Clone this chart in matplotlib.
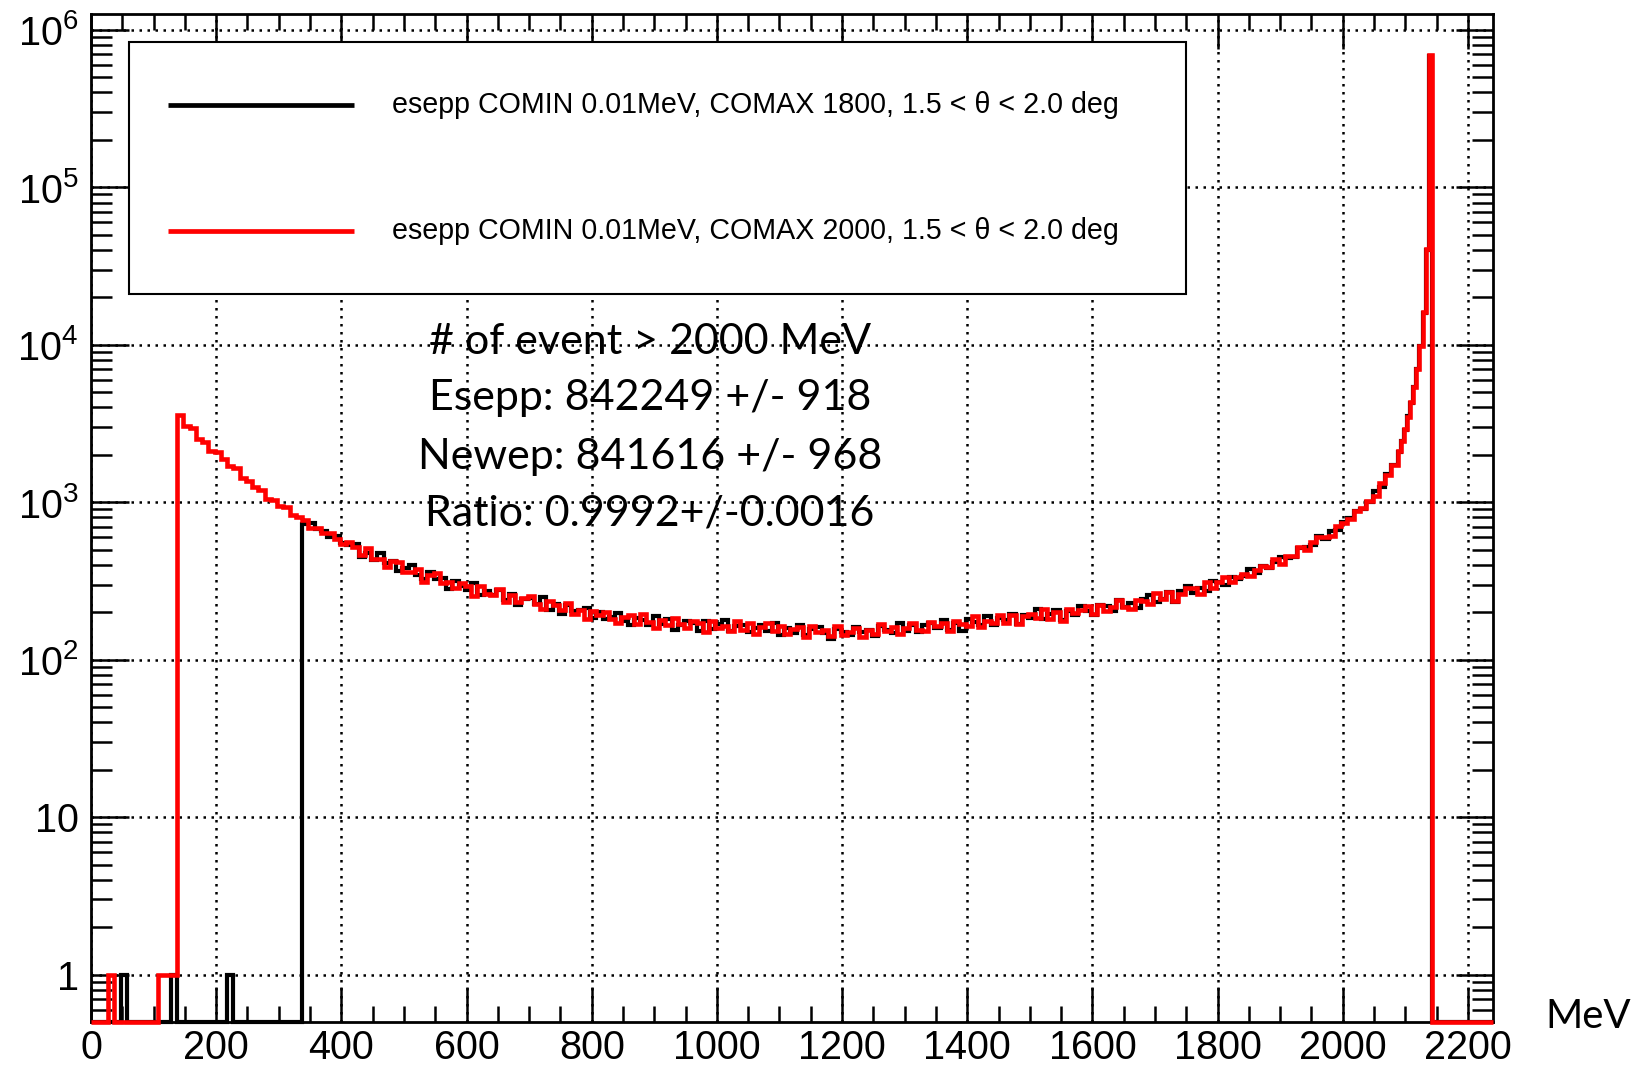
'''
esepp COMAX comparison: energy spectrum, 1.5 < theta < 2.0 deg.
'''

import matplotlib.pyplot as plt
import numpy as np
from matplotlib.patches import Rectangle
from matplotlib.ticker import (FixedFormatter, FixedLocator, LogLocator,
                               MultipleLocator, NullFormatter)

plt.rcParams['font.family'] = ['Liberation Sans', 'DejaVu Sans']

# bin edges (MeV): one edge bin, 10 MeV bins, 5 MeV bins near the peak, tail bin
edges = np.concatenate(([0.0], np.arange(7.5, 2088, 10),
                        np.arange(2092.5, 2143, 5), [2240.0]))

# COMAX 2000 (red)
red_low = [0, 0, 0, 1, 0, 0, 0, 0, 0, 0, 0, 1, 1, 1]
red_bulk = [
    3570, 3060, 2940, 2530, 2420, 2110, 2070, 1880, 1690, 1640,
    1425, 1366, 1245, 1192, 1045, 1026, 942, 931, 828, 800,
    773, 689, 688, 635, 635, 583, 544, 562, 522, 461,
    512, 438, 439, 386, 421, 419, 361, 361, 378, 311,
    346, 353, 305, 310, 284, 309, 293, 255, 293, 260,
    259, 283, 234, 258, 232, 245, 255, 227, 210, 237,
    222, 206, 229, 194, 208, 180, 205, 192, 202, 180,
    171, 186, 191, 169, 195, 173, 160, 179, 166, 184,
    169, 158, 175, 171, 149, 175, 160, 164, 153, 175,
    154, 170, 146, 161, 171, 152, 163, 145, 157, 162,
    139, 163, 149, 155, 141, 164, 143, 150, 159, 139,
    155, 145, 168, 152, 162, 146, 160, 172, 155, 152,
    174, 163, 171, 152, 176, 169, 163, 188, 162, 177,
    172, 192, 171, 193, 169, 188, 196, 184, 209, 180,
    201, 176, 209, 197, 206, 219, 196, 222, 205, 217,
    238, 216, 210, 239, 236, 227, 266, 244, 269, 236,
    262, 285, 284, 262, 312, 287, 312, 333, 311, 335,
    352, 341, 369, 396, 389, 434, 406, 453, 455, 516,
    498, 555, 599, 603, 609, 704, 738, 777, 877, 916,
    1018, 1094, 1321, 1480, 1715]
red_peak = [2110, 2430, 2920, 3480, 4330, 5380, 7030, 9750, 16100, 40500, 688000]

# COMAX 1800 (black)
black_low = [0, 0, 0, 0, 0, 1, 0, 0, 0, 0, 0, 0, 0, 1, 0, 0, 0,
             0, 0, 0, 0, 0, 1, 0, 0, 0, 0, 0, 0, 0, 0, 0, 0, 0]
black_bulk = [
    728, 735, 677, 653, 600, 608, 551, 535, 543, 451,
    479, 429, 474, 412, 421, 365, 384, 397, 346, 325,
    360, 324, 328, 282, 317, 294, 276, 308, 258, 273,
    257, 278, 239, 263, 224, 242, 245, 225, 249, 208,
    227, 194, 223, 204, 206, 212, 183, 202, 181, 186,
    199, 177, 167, 185, 179, 166, 190, 169, 181, 155,
    167, 176, 170, 153, 177, 157, 168, 178, 151, 163,
    166, 149, 159, 167, 153, 171, 143, 159, 147, 166,
    144, 157, 162, 147, 135, 156, 150, 144, 162, 149,
    155, 141, 163, 155, 148, 171, 153, 165, 149, 167,
    171, 160, 179, 155, 171, 152, 180, 173, 165, 190,
    165, 183, 178, 195, 169, 193, 184, 209, 182, 194,
    207, 178, 203, 191, 218, 203, 193, 222, 218, 204,
    240, 216, 228, 212, 243, 256, 232, 244, 269, 233,
    273, 293, 267, 285, 274, 314, 310, 297, 337, 327,
    342, 377, 354, 391, 384, 417, 450, 443, 446, 510,
    520, 532, 606, 588, 660, 665, 750, 790, 874, 909,
    1006, 1175, 1254, 1504, 1715]
black_peak = [2090, 2460, 2880, 3520, 4280, 5420, 6980, 9850, 15900, 40200, 686000]

labels = ['esepp COMIN 0.01MeV, COMAX 1800, 1.5 < \u03b8 < 2.0 deg',
          'esepp COMIN 0.01MeV, COMAX 2000, 1.5 < \u03b8 < 2.0 deg']
notes = ['# of event > 2000 MeV',
         'Esepp: 842249 +/- 918',
         'Newep: 841616 +/- 968',
         'Ratio: 0.9992+/-0.0016']
y_ticks = [1, 10, 1e2, 1e3, 1e4, 1e5, 1e6]
y_labels = ['1', '10'] + [r'$\mathregular{10^{%d}}$' % n for n in range(2, 7)]

YMIN, YMAX = 0.5, 1.26e6

red = np.concatenate((red_low, red_bulk, red_peak, [0])).astype(float)
black = np.concatenate((black_low, black_bulk, black_peak, [0])).astype(float)

fig = plt.figure(figsize=(16.45, 10.65), dpi=100)
ax = fig.add_axes([91 / 1645, 43 / 1065, 1402 / 1645, 1008 / 1065])

# empty bins sit on the lower frame, like ROOT does on a log axis
ax.stairs(np.where(black > 0, black, YMIN), edges, baseline=None,
          color='black', lw=3.0, clip_on=False, zorder=3)
ax.stairs(np.where(red > 0, red, YMIN), edges, baseline=None,
          color='red', lw=3.3, clip_on=False, zorder=4)

ax.set_yscale('log')
ax.set_xlim(0, 2240)
ax.set_ylim(YMIN, YMAX)

ax.xaxis.set_major_locator(MultipleLocator(200))
ax.xaxis.set_minor_locator(MultipleLocator(50))
ax.yaxis.set_major_locator(FixedLocator(y_ticks))
ax.yaxis.set_major_formatter(FixedFormatter(y_labels))
ax.yaxis.set_minor_locator(LogLocator(base=10, subs=np.arange(2, 10), numticks=20))
ax.yaxis.set_minor_formatter(NullFormatter())

ax.tick_params(which='both', direction='in', top=True, right=True, width=1.8)
ax.tick_params(axis='x', which='major', length=25, labelsize=28.5, pad=5)
ax.tick_params(axis='x', which='minor', length=11.5)
ax.tick_params(axis='y', which='major', length=27, labelsize=28.5, pad=9)
ax.tick_params(axis='y', which='minor', length=15)
ax.grid(True, which='major', color='black', linestyle=(0, (1, 2.2)), linewidth=1.8)
ax.set_axisbelow(True)
for s in ax.spines.values():
    s.set_linewidth(2)

# legend box
ax.add_patch(Rectangle((0.0271, 0.7222), 0.7539, 0.25, transform=ax.transAxes,
                       facecolor='white', edgecolor='black', lw=1.5, zorder=5))
for yl, col, lab in zip([0.9097, 0.7847], ['black', 'red'], labels):
    ax.plot([0.0549, 0.1876], [yl, yl], transform=ax.transAxes, color=col,
            lw=3.4, solid_capstyle='butt', zorder=6)
    ax.text(0.2147, yl, lab, transform=ax.transAxes, va='center', ha='left',
            fontsize=20.6, zorder=6)

# event counts
for yn, note in zip([0.6744, 0.6188, 0.5603, 0.5040], notes):
    ax.text(0.3987, yn, note, transform=ax.transAxes, ha='center', va='center',
            fontsize=31, family=['Lato', 'DejaVu Sans'], zorder=7)

fig.text(1545 / 1645, 1 - 1017 / 1065, 'MeV', ha='left', va='center',
         fontsize=29, family=['Lato', 'DejaVu Sans'])

plt.savefig('out.png', dpi=100)
